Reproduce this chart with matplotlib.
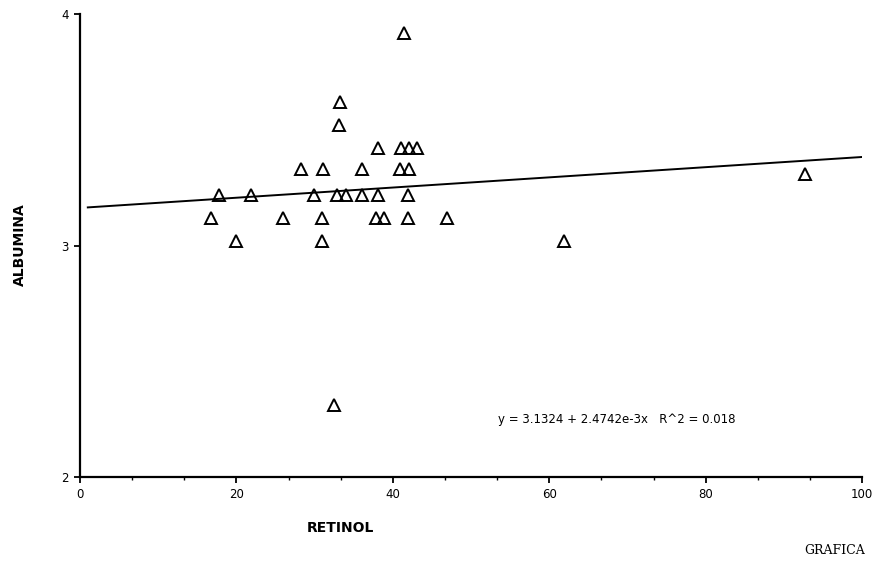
import matplotlib
matplotlib.use("Agg")
import matplotlib.pyplot as plt
from matplotlib.ticker import MultipleLocator

# values
retinol = [41.4, 33.2, 33.1,
           38.1, 41.1, 42.0, 43.1,
           28.2, 31.1, 36.1, 40.9, 42.0,
           17.8, 21.9, 29.9, 32.9, 34.0, 36.1, 38.1, 41.9,
           16.8, 26.0, 31.0, 37.8, 38.9, 41.9, 46.9,
           19.9, 31.0, 61.9,
           92.7, 32.5]
albumina = [3.92, 3.62, 3.52,
            3.42, 3.42, 3.42, 3.42,
            3.33, 3.33, 3.33, 3.33, 3.33,
            3.22, 3.22, 3.22, 3.22, 3.22, 3.22, 3.22, 3.22,
            3.12, 3.12, 3.12, 3.12, 3.12, 3.12, 3.12,
            3.02, 3.02, 3.02,
            3.31, 2.31]
fit_intercept = 3.163
fit_slope = 0.0022
fit_range = [1, 100]
equation = "y = 3.1324 + 2.4742e-3x   R^2 = 0.018"
x_ticks = [0, 20, 40, 60, 80, 100]
y_ticks = [2, 3, 4]

fig = plt.figure(figsize=(8.74, 5.66), dpi=100)
ax = fig.add_axes([0.0915, 0.157, 0.895, 0.818])

ax.plot(retinol, albumina, linestyle="none", marker="^", markersize=9,
        markerfacecolor="none", markeredgecolor="black", markeredgewidth=1.4)
fit_y = [fit_intercept + fit_slope * x for x in fit_range]
ax.plot(fit_range, fit_y, color="black", linewidth=1.4)

ax.set_xlim(0, 100)
ax.set_ylim(2, 4)
ax.set_xticks(x_ticks)
ax.set_yticks(y_ticks)
ax.xaxis.set_minor_locator(MultipleLocator(20 / 3))
ax.tick_params(axis="both", which="major", direction="out", length=4,
               width=1.3, labelsize=8.5, pad=4)
ax.tick_params(axis="x", which="minor", direction="out", length=2, width=1)
for side in ("top", "right"):
    ax.spines[side].set_visible(False)
for side in ("left", "bottom"):
    ax.spines[side].set_linewidth(1.6)

ax.text(53.5, 2.25, equation, fontsize=8.5, ha="left", va="center")

fig.text(0.023, 0.567, "ALBUMINA", rotation=90, fontsize=10,
         fontweight="bold", ha="center", va="center")
fig.text(0.39, 0.067, "RETINOL", fontsize=10, fontweight="bold",
         ha="center", va="center")
fig.text(0.955, 0.028, "GRAFICA", fontsize=9, family="DejaVu Serif",
         ha="center", va="center")

fig.savefig("out.png", dpi=100)
